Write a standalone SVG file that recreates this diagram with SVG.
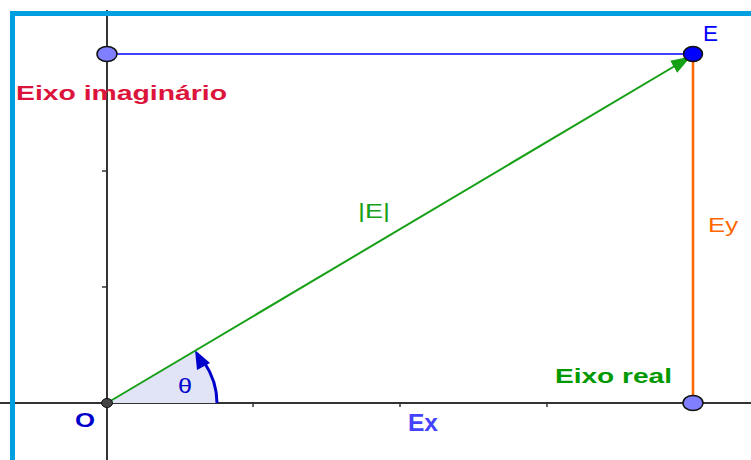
<svg xmlns="http://www.w3.org/2000/svg" width="751" height="460" viewBox="0 0 751 460">
<defs>
<style>
.axis{stroke:#333;stroke-width:2;fill:none}
.tick{stroke:#333;stroke-width:1.5}
.pt{stroke:#111;stroke-width:1.5}
text{font-family:"Liberation Sans",Arial,sans-serif}
.b{font-weight:bold}
</style>
<marker id="ah" viewBox="0 0 20 14" refX="19" refY="7" markerWidth="20" markerHeight="14" markerUnits="userSpaceOnUse" orient="auto">
<path d="M0,0 L20,7 L0,14 Z" fill="#16a016"/>
</marker>
</defs>
<rect width="751" height="460" fill="#fff"/>
<g id="axes">
<line class="axis" x1="107" y1="10" x2="107" y2="460"/>
<line class="axis" x1="0" y1="403" x2="751" y2="403"/>
<line class="tick" x1="102" y1="171" x2="107" y2="171"/>
<line class="tick" x1="102" y1="287" x2="107" y2="287"/>
<line class="tick" x1="253" y1="403" x2="253" y2="407"/>
<line class="tick" x1="400" y1="403" x2="400" y2="407"/>
<line class="tick" x1="547" y1="403" x2="547" y2="407"/>
</g>
<g id="border">
<path d="M12.5,460 V13.5 H751" fill="none" stroke="#00a0e0" stroke-width="5"/>
</g>
<g id="angle">
<path d="M107,403 L217,403 A110,87 0 0 0 195,351 Z" fill="#e1e3f7"/>
<path d="M217,403 A110,87 0 0 0 204,362" fill="none" stroke="#0000cc" stroke-width="3"/>
<polygon points="195,350 197,370 210,363" fill="#0000cc"/>
</g>
<g id="connectors">
<line x1="107" y1="54" x2="693" y2="54" stroke="#4040ff" stroke-width="2"/>
<line x1="693" y1="54" x2="693" y2="403" stroke="#ff6600" stroke-width="2.5"/>
<line x1="107" y1="403" x2="690" y2="57" stroke="#16a016" stroke-width="2" marker-end="url(#ah)"/>
</g>
<g id="node-O">
<ellipse cx="107" cy="403" rx="5.5" ry="4.5" fill="#444" stroke="#111" stroke-width="1"/>
<text x="75" y="427" class="b" font-size="20" fill="#0000cc" textLength="20" lengthAdjust="spacingAndGlyphs">O</text>
</g>
<g id="node-top">
<ellipse class="pt" cx="107" cy="54" rx="10" ry="7.5" fill="#7f7fff"/>
</g>
<g id="node-E">
<ellipse class="pt" cx="693" cy="54" rx="9.5" ry="7.5" fill="#0000ff"/>
<text x="703" y="41" font-size="22" fill="#0000ff" textLength="15" lengthAdjust="spacingAndGlyphs">E</text>
</g>
<g id="node-bottom">
<ellipse class="pt" cx="693" cy="403" rx="10" ry="7.5" fill="#7f7fff"/>
</g>
<g id="labels">
<text x="16" y="100" class="b" font-size="20" fill="#dc143c" textLength="211" lengthAdjust="spacingAndGlyphs">Eixo imaginário</text>
<text x="555" y="383" class="b" font-size="21" fill="#009900" textLength="117" lengthAdjust="spacingAndGlyphs">Eixo real</text>
<text x="178" y="393" font-size="20" fill="#0000cc" textLength="14" lengthAdjust="spacingAndGlyphs">θ</text>
<text x="408" y="431" class="b" font-size="23" fill="#4444ff" textLength="30" lengthAdjust="spacingAndGlyphs">Ex</text>
<text x="358" y="218" font-size="21" fill="#16a016" textLength="32" lengthAdjust="spacingAndGlyphs">|E|</text>
<text x="708" y="232" font-size="21" fill="#ff6600" textLength="30" lengthAdjust="spacingAndGlyphs">Ey</text>
</g>
</svg>
